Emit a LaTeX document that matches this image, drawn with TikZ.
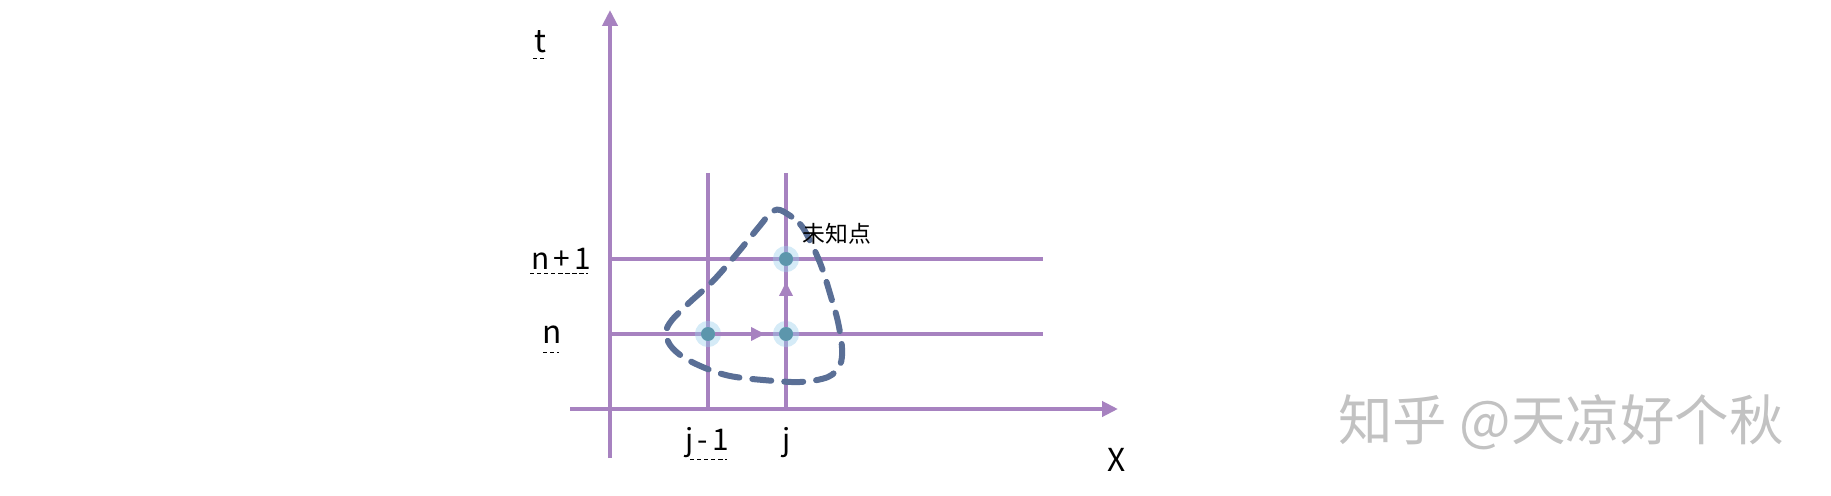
\documentclass[tikz,border=0pt]{standalone}
\usepackage{fontspec}
\setmainfont{Noto Sans CJK SC}
\newfontfamily\widefont[LetterSpace=14]{Noto Sans CJK SC}
\usepackage{xcolor}
\usepackage{tikz}
\usetikzlibrary{arrows.meta,positioning}

\definecolor{axisc}{RGB}{167,130,192}
\definecolor{loopc}{RGB}{90,111,150}
\definecolor{dotc}{RGB}{92,150,172}
\definecolor{glowc}{RGB}{150,205,235}

\begin{document}
\begin{tikzpicture}[x=0.02cm,y=-0.02cm,
  axis/.style={
   draw=axisc,
   line width=0.08cm,
   -{Triangle[length=0.32cm,width=0.3cm]}
  },
  gline/.style={
   draw=axisc,
   line width=0.08cm
  },
  flow/.style={
   draw=axisc,
   line width=0.08cm,
   -{Triangle[length=0.28cm,width=0.26cm]}
  },
  pt/.style={
   circle,
   fill=dotc,
   inner sep=0pt,
   minimum size=0.28cm,
   preaction={fill=glowc,fill opacity=0.55,draw=glowc,draw opacity=0.4,line width=0.24cm}
  },
  lab/.style={
   inner sep=0pt,
   font=\fontsize{18}{20}\selectfont
  },
  slab/.style={
   inner sep=0pt,
   font=\widefont\fontsize{17}{19}\selectfont
  },
  spell/.style={
   draw=black,
   line width=0.5pt,
   dash pattern=on 2.5pt off 1.5pt
  }]
  \useasboundingbox (0,0) rectangle (1831,496);

  % axes
  \coordinate (t0) at (610,458);
  \coordinate (t1) at (610,10);
  \coordinate (x0) at (570,409);
  \coordinate (x1) at (1118,409);
  \draw[axis] (t0) -- (t1);
  \draw[axis] (x0) -- (x1);

  % grid lines
  \coordinate (n0) at (610,334);
  \coordinate (n1) at (1043,334);
  \coordinate (m0) at (610,259);
  \coordinate (m1) at (1043,259);
  \coordinate (a0) at (708,173);
  \coordinate (a1) at (708,409);
  \coordinate (b0) at (786,173);
  \coordinate (b1) at (786,409);
  \draw[gline] (n0) -- (n1);
  \draw[gline] (m0) -- (m1);
  \draw[gline] (a0) -- (a1);
  \draw[gline] (b0) -- (b1);

  % stencil
  \draw[loopc,line width=0.12cm,dash pattern=on 0.38cm off 0.26cm,line cap=round]
    plot[smooth cycle,tension=0.55] coordinates {
      (780,210) (800,224) (812,245) (822,268) (831,297) (838,322) (842,348)
      (840,365) (828,377) (800,382) (763,380) (730,376) (705,368) (683,357)
      (670,345) (666,332) (672,320) (690,302) (712,282) (735,256) (758,228)
      (770,214)};

  % points and arrows
  \coordinate (h) at (765,334);
  \coordinate (v) at (786,282);
  \node[pt] (p1) at (708,334) {};
  \node[pt] (p2) at (786,334) {};
  \node[pt] (p3) at (786,259) {};
  \draw[flow] (p1) -- (h);
  \draw[flow] (p2) -- (v);

  % labels
  \node[lab] (lt) at (540,42) {t};
  \node[lab] (ln) at (552,335) {n};
  \node[slab] (ln1) at (561,259) {n+1};
  \node[slab] (lj1) at (707,443) {j-1};
  \node[slab] (lj) at (787,443) {j};
  \node[lab] (lx) at (1117,460) {X};
  \node[inner sep=0pt,font=\fontsize{13}{15}\selectfont] (lu) at (837,234) {未知点};

  \draw[spell] (533,58) -- (547,58);
  \draw[spell] (543,352) -- (559,352);
  \draw[spell] (530,273) -- (588,273);
  \draw[spell] (690,459) -- (727,459);

  \node[inner sep=0pt,text=black!24,font=\fontsize{31}{34}\selectfont] (wm) at (1561,422) {知乎 @天凉好个秋};
\end{tikzpicture}
\end{document}
